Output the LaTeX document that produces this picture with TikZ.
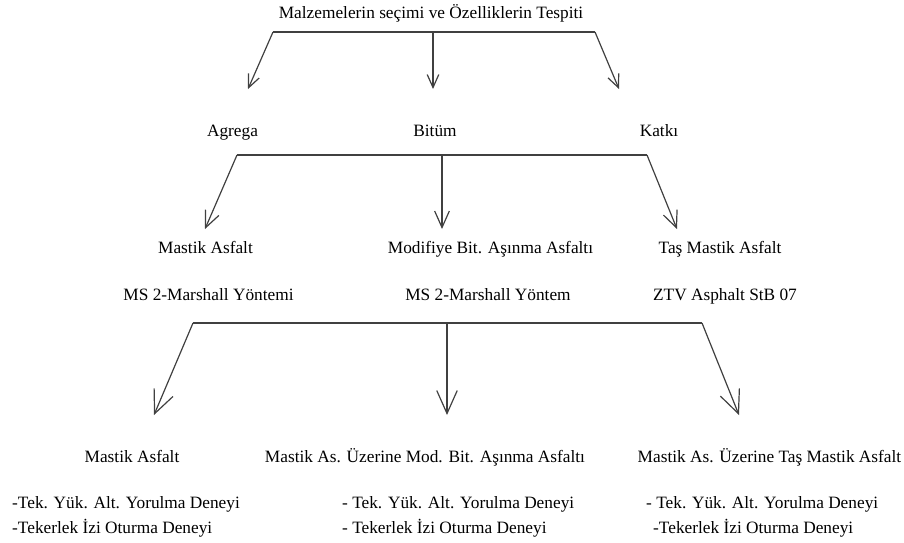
\documentclass[tikz,border=0pt]{standalone}
\usepackage{fontspec}
\setmainfont{Liberation Serif}
\usetikzlibrary{arrows.meta}

\begin{document}
\begin{tikzpicture}[x=1pt,y=-1pt,
			every node/.style={inner sep=0pt,anchor=base,font=\fontsize{17.3}{20}\selectfont},
			kol/.style={draw=black!75,line width=1.2pt},
			ok/.style={kol,-{Straight Barb[length=#1,angle'=48]}}]
	\useasboundingbox (0,0) rectangle (904,542);
	% ust seviye
	\node (secim) at (431,18.5) {Malzemelerin seçimi ve Özelliklerin Tespiti};
	\node (agrega) at (232.5,136) {Agrega};
	\node (bitum) at (435,136) {Bitüm};
	\node (katki) at (659,136) {Katkı};
	% karisimlar
	\node (mastik) at (205.5,253) {Mastik Asfalt};
	\node (modifiye) at (490.5,253) {Modifiye Bit. Aşınma Asfaltı};
	\node (tas) at (720,253) {Taş Mastik Asfalt};
	\node (msA) at (208.5,300) {MS 2-Marshall Yöntemi};
	\node (msB) at (488,300) {MS 2-Marshall Yöntem};
	\node (ztv) at (725,300) {ZTV Asphalt StB 07};
	% deneyler
	\node (sonMastik) at (132,462) {Mastik Asfalt};
	\node (sonMod) at (425,462) {Mastik As. Üzerine Mod. Bit. Aşınma Asfaltı};
	\node (sonTas) at (769.5,462) {Mastik As. Üzerine Taş Mastik Asfalt};
	\node[anchor=base west] (denA1) at (12,508) {-Tek. Yük. Alt. Yorulma Deneyi};
	\node[anchor=base west] (denA2) at (12,533) {-Tekerlek İzi Oturma Deneyi};
	\node[anchor=base west] (denB1) at (342,508) {- Tek. Yük. Alt. Yorulma Deneyi};
	\node[anchor=base west] (denB2) at (342,533) {- Tekerlek İzi Oturma Deneyi};
	\node[anchor=base west] (denC1) at (646,508) {- Tek. Yük. Alt. Yorulma Deneyi};
	\node[anchor=base west] (denC2) at (653,533) {-Tekerlek İzi Oturma Deneyi};
	% kollar
	\coordinate (b1l) at (273,32);
	\coordinate (b1m) at (433,32);
	\coordinate (b1r) at (595,32);
	\coordinate (u1a) at (248,89);
	\coordinate (u1b) at (433,89);
	\coordinate (u1c) at (619,89);
	\coordinate (b2l) at (237,155);
	\coordinate (b2m) at (442,155);
	\coordinate (b2r) at (647,155);
	\coordinate (u2a) at (205,229);
	\coordinate (u2b) at (442,229);
	\coordinate (u2c) at (677,229);
	\coordinate (b3l) at (193,323);
	\coordinate (b3m) at (447,323);
	\coordinate (b3r) at (702,323);
	\coordinate (u3a) at (154,415);
	\coordinate (u3b) at (447,415);
	\coordinate (u3c) at (739,415);
	\draw[kol] (b1l) -- (b1r);
	\draw[ok=13pt] (b1l) -- (u1a);
	\draw[ok=13pt] (b1m) -- (u1b);
	\draw[ok=13pt] (b1r) -- (u1c);
	\draw[kol] (b2l) -- (b2r);
	\draw[ok=16.5pt] (b2l) -- (u2a);
	\draw[ok=16.5pt] (b2m) -- (u2b);
	\draw[ok=16.5pt] (b2r) -- (u2c);
	\draw[kol] (b3l) -- (b3r);
	\draw[ok=23pt] (b3l) -- (u3a);
	\draw[ok=23pt] (b3m) -- (u3b);
	\draw[ok=23pt] (b3r) -- (u3c);
\end{tikzpicture}
\end{document}
